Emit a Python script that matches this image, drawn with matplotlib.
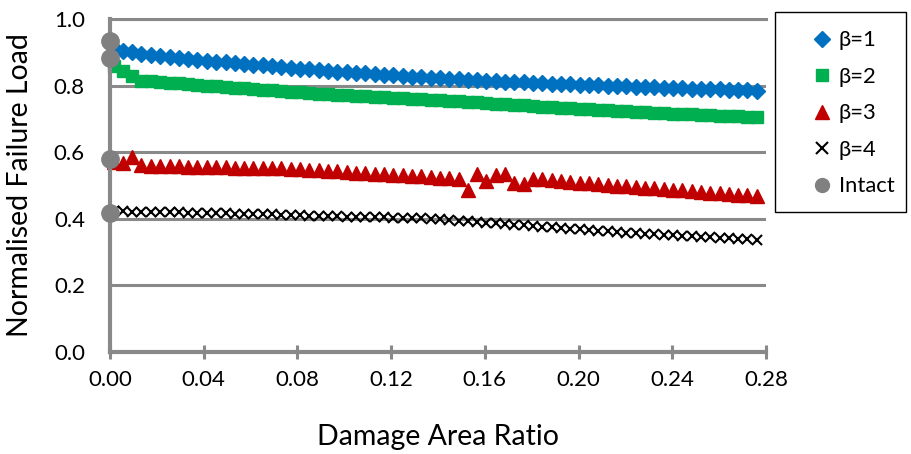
import matplotlib.pyplot as plt
from matplotlib.patches import Rectangle

plt.rcParams['font.family'] = ['Lato', 'DejaVu Sans']

# damage area ratio of each analysed case
damage_ratio = [
    0.0015, 0.0055, 0.0095, 0.0134, 0.0174, 0.0214, 0.0254, 0.0294, 0.0333, 0.0373,
    0.0413, 0.0453, 0.0493, 0.0532, 0.0572, 0.0612, 0.0652, 0.0692, 0.0731, 0.0771,
    0.0811, 0.0851, 0.0891, 0.0930, 0.0970, 0.1010, 0.1050, 0.1090, 0.1129, 0.1169,
    0.1209, 0.1249, 0.1289, 0.1328, 0.1368, 0.1408, 0.1448, 0.1488, 0.1527, 0.1567,
    0.1607, 0.1647, 0.1687, 0.1726, 0.1766, 0.1806, 0.1846, 0.1886, 0.1925, 0.1965,
    0.2005, 0.2045, 0.2085, 0.2124, 0.2164, 0.2204, 0.2244, 0.2284, 0.2323, 0.2363,
    0.2403, 0.2443, 0.2483, 0.2522, 0.2562, 0.2602, 0.2642, 0.2682, 0.2721, 0.2761,
]

load_beta1 = [
    0.913, 0.905, 0.900, 0.896, 0.892, 0.889, 0.886, 0.883, 0.880, 0.877,
    0.875, 0.872, 0.870, 0.868, 0.865, 0.863, 0.861, 0.859, 0.857, 0.854,
    0.851, 0.849, 0.846, 0.844, 0.842, 0.840, 0.838, 0.837, 0.835, 0.833,
    0.831, 0.829, 0.827, 0.825, 0.823, 0.822, 0.820, 0.819, 0.818, 0.816,
    0.815, 0.814, 0.812, 0.811, 0.810, 0.808, 0.807, 0.806, 0.805, 0.804,
    0.803, 0.802, 0.801, 0.800, 0.799, 0.798, 0.797, 0.796, 0.795, 0.794,
    0.793, 0.792, 0.791, 0.790, 0.789, 0.789, 0.788, 0.787, 0.786, 0.785,
]

load_beta2 = [
    0.858, 0.845, 0.828, 0.815, 0.813, 0.811, 0.809, 0.807, 0.805, 0.803,
    0.800, 0.798, 0.796, 0.794, 0.792, 0.790, 0.788, 0.786, 0.784, 0.782,
    0.780, 0.778, 0.776, 0.774, 0.772, 0.771, 0.769, 0.768, 0.766, 0.765,
    0.763, 0.762, 0.760, 0.759, 0.757, 0.756, 0.754, 0.753, 0.751, 0.750,
    0.748, 0.746, 0.745, 0.743, 0.741, 0.739, 0.737, 0.735, 0.734, 0.732,
    0.731, 0.729, 0.728, 0.726, 0.725, 0.723, 0.722, 0.720, 0.719, 0.718,
    0.716, 0.715, 0.714, 0.712, 0.711, 0.710, 0.709, 0.708, 0.707, 0.706,
]

load_beta3 = [
    0.572, 0.568, 0.585, 0.562, 0.560, 0.559, 0.558, 0.558, 0.557, 0.556,
    0.556, 0.555, 0.555, 0.554, 0.554, 0.553, 0.553, 0.552, 0.552, 0.551,
    0.550, 0.548, 0.546, 0.544, 0.543, 0.541, 0.539, 0.538, 0.536, 0.535,
    0.533, 0.531, 0.530, 0.528, 0.526, 0.524, 0.522, 0.520, 0.487, 0.535,
    0.513, 0.531, 0.534, 0.509, 0.505, 0.521, 0.519, 0.517, 0.514, 0.512,
    0.509, 0.507, 0.505, 0.502, 0.500, 0.498, 0.496, 0.493, 0.491, 0.489,
    0.487, 0.485, 0.483, 0.481, 0.478, 0.476, 0.474, 0.472, 0.470, 0.468,
]

load_beta4 = [
    0.422, 0.422, 0.421, 0.421, 0.420, 0.420, 0.419, 0.419, 0.418, 0.418,
    0.417, 0.416, 0.416, 0.415, 0.415, 0.414, 0.413, 0.413, 0.412, 0.411,
    0.410, 0.409, 0.408, 0.407, 0.407, 0.406, 0.406, 0.405, 0.405, 0.404,
    0.403, 0.403, 0.402, 0.401, 0.400, 0.398, 0.396, 0.394, 0.392, 0.390,
    0.388, 0.386, 0.384, 0.382, 0.380, 0.378, 0.376, 0.374, 0.372, 0.370,
    0.368, 0.366, 0.364, 0.362, 0.360, 0.358, 0.356, 0.354, 0.353, 0.351,
    0.350, 0.348, 0.347, 0.345, 0.344, 0.342, 0.341, 0.339, 0.338, 0.336,
]

# undamaged panels sit at zero damage
intact_ratio = [0.0, 0.0, 0.0, 0.0]
intact_load = [0.933, 0.882, 0.581, 0.417]

x_ticks = [0.00, 0.04, 0.08, 0.12, 0.16, 0.20, 0.24, 0.28]
y_ticks = [0.0, 0.2, 0.4, 0.6, 0.8, 1.0]

GREY = '#898989'
W, H = 911, 454

fig = plt.figure(figsize=(W / 100, H / 100), dpi=100)
ax = fig.add_axes([110 / W, 102 / H, 656 / W, 333 / H])

ax.plot(damage_ratio, load_beta1, ls='none', marker='D', ms=8.5, color='#0070C0',
        label='β=1', clip_on=False)
ax.plot(damage_ratio, load_beta2, ls='none', marker='s', ms=8.3, color='#00B050',
        label='β=2', clip_on=False)
ax.plot(damage_ratio, load_beta3, ls='none', marker='^', ms=9.5, color='#C00000',
        label='β=3', clip_on=False)
ax.plot(damage_ratio, load_beta4, ls='none', marker='x', ms=7.2, mew=1.5, color='black',
        label='β=4', clip_on=False)
ax.plot(intact_ratio, intact_load, ls='none', marker='o', ms=12.5, color='#808080',
        label='Intact', clip_on=False, zorder=5)

ax.set_xlim(0, 0.28)
ax.set_ylim(0, 1.0)
ax.set_xticks(x_ticks)
ax.set_xticklabels([f'{t:.2f}' for t in x_ticks])
ax.set_yticks(y_ticks)
ax.set_yticklabels([f'{t:.1f}' for t in y_ticks])

ax.grid(axis='y', color=GREY, lw=2.2)
ax.set_axisbelow(True)
ax.spines['right'].set_visible(False)
for side in ('left', 'bottom'):
    ax.spines[side].set_color(GREY)
    ax.spines[side].set_linewidth(3)
ax.spines['top'].set_color(GREY)
ax.spines['top'].set_linewidth(2.2)

ax.tick_params(axis='x', direction='inout', length=10, width=2.2, color=GREY,
               labelsize=16, pad=8)
ax.tick_params(axis='y', length=0, labelsize=16, pad=18)

ax.set_xlabel('Damage Area Ratio', fontsize=20.5)
ax.set_ylabel('Normalised Failure Load', fontsize=20.5)
ax.xaxis.set_label_coords(0.5, -0.215)
ax.yaxis.set_label_coords(-0.118, 0.5)

# legend frame drawn by hand so its size is fixed
fig.patches.append(Rectangle((775 / W, 1 - 212 / H), 131 / W, 200 / H,
                             transform=fig.transFigure, fill=False,
                             edgecolor='black', lw=1.0))
leg = fig.legend(loc='upper left', bbox_to_anchor=(797 / W, 1 - 15 / H),
                 frameon=False, fontsize=15.8, handlelength=0.9, handletextpad=0.3,
                 labelspacing=0.75, borderpad=0.2)
for h, s in zip(leg.legend_handles, [8.5, 9, 10, 8, 10]):
    h.set_markersize(s)

fig.savefig('out.png', dpi=100)
